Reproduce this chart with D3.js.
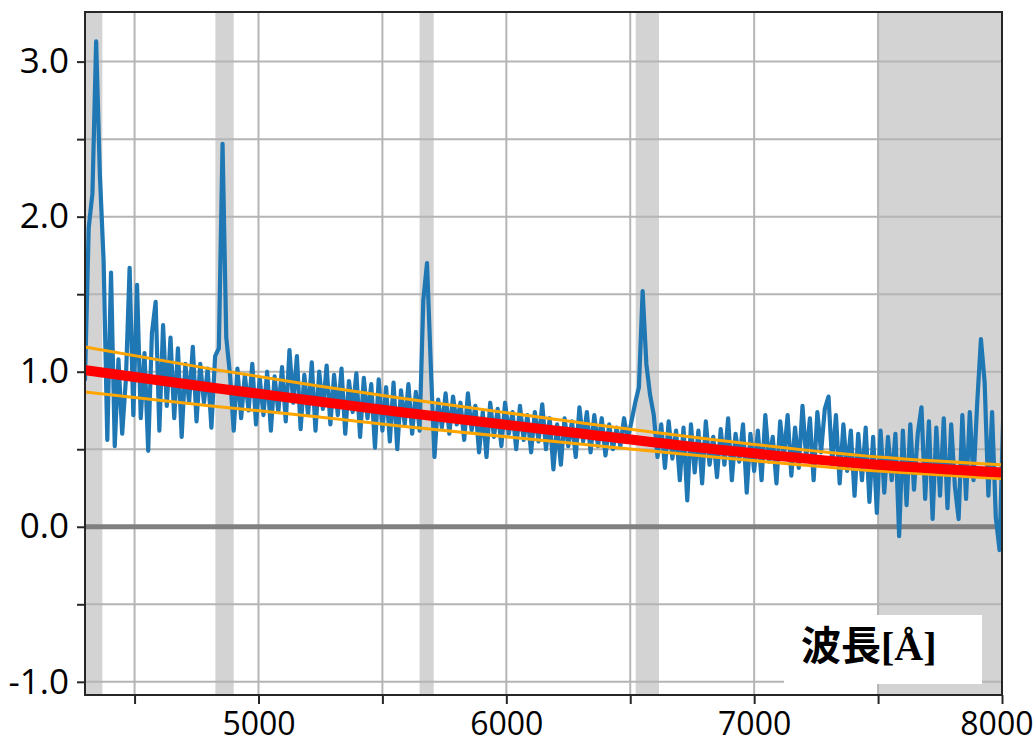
<!DOCTYPE html>
<html>
<head>
<meta charset="utf-8">
<script src="https://cdn.jsdelivr.net/npm/d3@7"></script>
<style>
  html, body { margin: 0; padding: 0; background: #fff; }
  svg { display: block; }
</style>
</head>
<body>
<svg id="chart" width="1035" height="745"></svg>
<script>
// Wavelength grid of the spectrum (Å): start and step
const specStart = 4300;
const specStep = 15;

// Flux of the spectrum, one value per 15 Å
const fluxValues = [
  0.95, 1.93, 2.15, 3.13, 2.27, 1.72, 0.56, 1.64, 0.52, 1.08,
  0.60, 0.95, 1.67, 0.72, 1.56, 0.70, 1.12, 0.49, 1.25, 1.45,
  0.62, 1.30, 0.78, 1.22, 0.70, 1.15, 0.58, 1.05, 0.80, 1.16,
  0.68, 1.05, 0.80, 1.02, 0.64, 1.10, 1.15, 2.47, 1.22, 0.98,
  0.62, 1.02, 0.70, 0.98, 0.75, 1.05, 0.66, 0.96, 0.72, 1.00,
  0.62, 0.97, 0.74, 1.03, 0.68, 1.14, 0.80, 1.10, 0.63, 0.98,
  0.72, 1.06, 0.62, 1.00, 0.76, 1.04, 0.66, 0.98, 0.72, 1.02,
  0.60, 0.94, 0.74, 0.99, 0.58, 0.96, 0.70, 0.92, 0.51, 0.95,
  0.62, 0.90, 0.55, 0.93, 0.50, 0.88, 0.66, 0.92, 0.60, 0.87,
  0.62, 1.46, 1.70, 1.05, 0.45, 0.82, 0.64, 0.86, 0.60, 0.84,
  0.66, 0.80, 0.56, 0.86, 0.62, 0.78, 0.48, 0.74, 0.45, 0.80,
  0.58, 0.76, 0.52, 0.80, 0.60, 0.74, 0.50, 0.78, 0.56, 0.72,
  0.48, 0.74, 0.55, 0.79, 0.50, 0.70, 0.37, 0.66, 0.40, 0.70,
  0.52, 0.68, 0.45, 0.77, 0.55, 0.74, 0.48, 0.72, 0.52, 0.70,
  0.46, 0.66, 0.50, 0.64, 0.52, 0.70, 0.56, 0.68, 0.80, 0.90,
  1.52, 1.05, 0.85, 0.72, 0.45, 0.66, 0.38, 0.68, 0.44, 0.62,
  0.30, 0.64, 0.17, 0.66, 0.35, 0.62, 0.28, 0.68, 0.40, 0.58,
  0.32, 0.63, 0.40, 0.70, 0.30, 0.60, 0.42, 0.66, 0.22, 0.60,
  0.36, 0.62, 0.30, 0.72, 0.42, 0.58, 0.28, 0.68, 0.45, 0.72,
  0.33, 0.64, 0.38, 0.78, 0.44, 0.70, 0.30, 0.74, 0.48, 0.76,
  0.84, 0.40, 0.72, 0.28, 0.66, 0.36, 0.62, 0.20, 0.60, 0.30,
  0.64, 0.16, 0.58, 0.09, 0.62, 0.22, 0.58, 0.30, 0.60, -0.06,
  0.62, 0.14, 0.66, 0.24, 0.60, 0.77, 0.18, 0.68, 0.05, 0.64,
  0.20, 0.70, 0.12, 0.66, 0.26, 0.05, 0.72, 0.18, 0.74, 0.30,
  0.80, 1.21, 0.93, 0.20, 0.74, 0.06, -0.15, 0.72
];

// Continuum fit and its upper / lower bounds at knot wavelengths
const fitWave  = [4300, 4800, 5235, 5570, 6256, 6900, 7500, 8000];
const fitValue = [1.01, 0.90, 0.81, 0.74, 0.61, 0.49, 0.40, 0.35];
const fitUpper = [1.16, 1.02, 0.91, 0.83, 0.68, 0.55, 0.45, 0.40];
const fitLower = [0.87, 0.78, 0.71, 0.65, 0.54, 0.44, 0.36, 0.31];

// Masked wavelength ranges (Å)
const maskStart = [4290, 4826, 5650, 6522, 7502];
const maskEnd   = [4370, 4900, 5707, 6616, 8010];

// Axis ticks
const xTicks = [4500, 5000, 5500, 6000, 6500, 7000, 7500, 8000];
const xLabels = [5000, 6000, 7000, 8000];
const yTicks = [-1.0, -0.5, 0.0, 0.5, 1.0, 1.5, 2.0, 2.5, 3.0];
const yLabels = [-1.0, 0.0, 1.0, 2.0, 3.0];

const axisTitle = "波長";
const axisUnit = "[Å]";

const svg = d3.select("#chart");
const L = 85, R = 1002, T = 12, B = 695;

const x = d3.scaleLinear().domain([4300, 8000]).range([L, R]);
const y = d3.scaleLinear().domain([-1.085, 3.32]).range([B, T]);

svg.append("defs").append("clipPath").attr("id", "plot")
  .append("rect").attr("x", L).attr("y", T).attr("width", R - L).attr("height", B - T);

const plot = svg.append("g").attr("clip-path", "url(#plot)");

// masked ranges
plot.selectAll("rect.mask")
  .data(maskStart.map((s, i) => [s, maskEnd[i]]))
  .join("rect")
  .attr("class", "mask")
  .attr("x", d => x(d[0]))
  .attr("width", d => x(d[1]) - x(d[0]))
  .attr("y", T).attr("height", B - T)
  .attr("fill", "#d3d3d3");

// grid
plot.selectAll("line.vgrid").data(xTicks.filter(v => v < 8000)).join("line")
  .attr("x1", d => x(d)).attr("x2", d => x(d))
  .attr("y1", T).attr("y2", B)
  .attr("stroke", "#b5b5b5").attr("stroke-width", 2);
plot.selectAll("line.hgrid").data(yTicks).join("line")
  .attr("x1", L).attr("x2", R)
  .attr("y1", d => y(d)).attr("y2", d => y(d))
  .attr("stroke", "#b5b5b5").attr("stroke-width", 2);

// zero level
plot.append("line")
  .attr("x1", L).attr("x2", R)
  .attr("y1", y(0)).attr("y2", y(0))
  .attr("stroke", "#808080").attr("stroke-width", 5);

// spectrum
const spectrum = fluxValues.map((v, i) => [specStart + i * specStep, v]);
plot.append("path")
  .datum(spectrum)
  .attr("fill", "none")
  .attr("stroke", "#1f77b4")
  .attr("stroke-width", 4.2)
  .attr("stroke-linejoin", "round")
  .attr("stroke-linecap", "round")
  .attr("d", d3.line().x(d => x(d[0])).y(d => y(d[1])));

// fit bounds and fit
const curve = d3.line().curve(d3.curveMonotoneX).x(d => x(d[0])).y(d => y(d[1]));
[fitUpper, fitLower].forEach(arr => {
  plot.append("path")
    .datum(fitWave.map((w, i) => [w, arr[i]]))
    .attr("fill", "none")
    .attr("stroke", "#ffa500")
    .attr("stroke-width", 3)
    .attr("d", curve);
});
plot.append("path")
  .datum(fitWave.map((w, i) => [w, fitValue[i]]))
  .attr("fill", "none")
  .attr("stroke", "#ff0000")
  .attr("stroke-width", 10)
  .attr("d", curve);

// frame
svg.append("rect")
  .attr("x", L).attr("y", T).attr("width", R - L).attr("height", B - T)
  .attr("fill", "none").attr("stroke", "#262626").attr("stroke-width", 2);

// axes
const fontFamily = "'Open Sans', 'Noto Sans', sans-serif";
const xAxis = d3.axisBottom(x)
  .tickValues(xTicks)
  .tickSize(9)
  .tickPadding(6)
  .tickFormat(d => xLabels.includes(d) ? String(d) : "");
const gx = svg.append("g").attr("transform", `translate(0,${B})`).call(xAxis);
gx.select(".domain").remove();
gx.selectAll(".tick line").attr("stroke", "#262626").attr("stroke-width", 2);
gx.selectAll(".tick text")
  .attr("font-family", fontFamily).attr("font-size", 32).attr("fill", "#000")
  .attr("y", 40).attr("dy", null)
  .attr("text-anchor", d => d === 8000 ? "end" : "middle")
  .attr("dx", d => d === 8000 ? 31 : 0);

const yAxis = d3.axisLeft(y)
  .tickValues(yTicks)
  .tickSize(8)
  .tickPadding(8)
  .tickFormat(d => yLabels.includes(d) ? d3.format(".1f")(d).replace("−", "-") : "");
const gy = svg.append("g").attr("transform", `translate(${L},0)`).call(yAxis);
gy.select(".domain").remove();
gy.selectAll(".tick line").attr("stroke", "#262626").attr("stroke-width", 2);
gy.selectAll(".tick text")
  .attr("font-family", fontFamily).attr("font-size", 35).attr("fill", "#000");

// axis title box
svg.append("rect")
  .attr("x", 784).attr("y", 615).attr("width", 198).attr("height", 69)
  .attr("fill", "#fff");
const title = svg.append("text")
  .attr("x", 801).attr("y", 660)
  .attr("font-weight", "bold")
  .attr("fill", "#000");
title.append("tspan")
  .attr("font-family", "'Noto Sans CJK JP', sans-serif")
  .attr("font-size", 40)
  .text(axisTitle);
title.append("tspan")
  .attr("font-family", "'Liberation Serif', serif")
  .attr("font-size", 40)
  .text(axisUnit);
</script>
</body>
</html>
